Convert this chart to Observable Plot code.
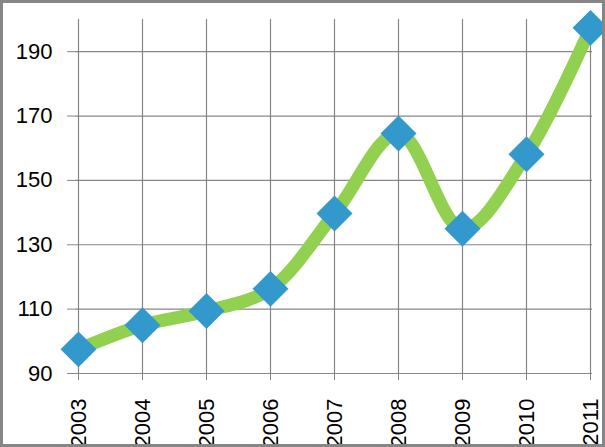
<!DOCTYPE html>
<html>
<head>
<meta charset="utf-8">
<script src="https://cdn.jsdelivr.net/npm/d3@7"></script>
<script src="https://cdn.jsdelivr.net/npm/@observablehq/plot@0.6"></script>
<style>
  html, body { margin: 0; padding: 0; background: #fff; }
  #wrap { position: relative; width: 605px; height: 447px; overflow: hidden; }
  #border { position: absolute; left: 0; top: 0; width: 605px; height: 447px; box-sizing: border-box; border: 3px solid #868686; pointer-events: none; }
</style>
</head>
<body>
<div id="wrap"><div id="chart"></div><div id="border"></div></div>
<script>
const years = ["2003","2004","2005","2006","2007","2008","2009","2010","2011"];
const values = [97.5, 105, 109.4, 116.3, 139.7, 164.6, 135, 158.1, 197.4];
const yTicks = [90, 110, 130, 150, 170, 190];

const data = years.map((year, i) => ({year, value: values[i]}));

const chart = Plot.plot({
  width: 605,
  height: 447,
  marginLeft: 75,
  marginRight: 13,
  marginTop: 19,
  marginBottom: 74,
  style: {fontFamily: "'Liberation Sans', Arial, sans-serif", fontSize: "22px", color: "#000", background: "#fff"},
  x: {type: "point", domain: years, padding: 0, label: null},
  y: {domain: [90, 200], label: null},
  marks: [
    Plot.gridX(years, {stroke: "#868686", strokeOpacity: 1, strokeWidth: 1.2}),
    Plot.gridY(yTicks, {stroke: "#868686", strokeOpacity: 1, strokeWidth: 1.2}),
    Plot.axisY({ticks: yTicks, tickSize: 8, tickPadding: 15, stroke: "#868686", strokeOpacity: 1, label: null, fontSize: 22}),
    Plot.axisX({ticks: years, tickSize: 7, tickPadding: 18, tickRotate: -90, stroke: "#868686", strokeOpacity: 1, label: null, fontSize: 22}),
    Plot.line(data, {x: "year", y: "value", curve: "catmull-rom", stroke: "#92D050", strokeWidth: 13, strokeLinecap: "butt"}),
    Plot.dot(data, {x: "year", y: "value", symbol: "diamond2", r: 16.2, fill: "#3399CC", stroke: "none"})
  ]
});
document.getElementById("chart").appendChild(chart);
</script>
</body>
</html>
